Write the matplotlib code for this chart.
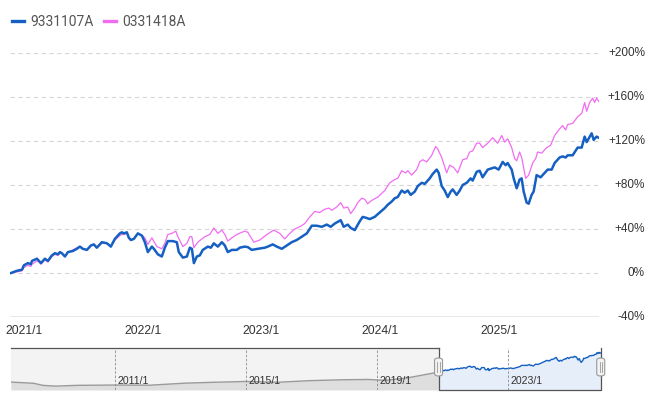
import matplotlib
matplotlib.use("Agg")
import matplotlib.pyplot as plt
import matplotlib.transforms as mtransforms
from matplotlib.lines import Line2D
from matplotlib.patches import FancyBboxPatch

# 9331107A : cumulative return (%) vs decimal year
blue_t = [2020.888, 2020.938, 2020.981, 2020.997, 2021.031, 2021.056, 2021.065, 2021.107, 2021.124, 2021.141,
          2021.174, 2021.200, 2021.233, 2021.259, 2021.284, 2021.301, 2021.317, 2021.343, 2021.368, 2021.410,
          2021.444, 2021.469, 2021.494, 2021.528, 2021.562, 2021.587, 2021.612, 2021.654, 2021.697, 2021.730,
          2021.764, 2021.806, 2021.823, 2021.840, 2021.865, 2021.882,
          2021.899, 2021.924, 2021.958, 2021.992, 2022.017, 2022.042, 2022.076, 2022.093, 2022.126, 2022.160,
          2022.185, 2022.211, 2022.253, 2022.286, 2022.303, 2022.337, 2022.371, 2022.396, 2022.413, 2022.430,
          2022.455, 2022.480, 2022.505, 2022.548, 2022.573, 2022.598, 2022.632, 2022.666, 2022.691, 2022.716,
          2022.750, 2022.792, 2022.817, 2022.859,
          2022.885, 2022.918, 2022.969, 2023.028, 2023.053, 2023.095, 2023.129, 2023.171, 2023.213, 2023.255,
          2023.297, 2023.340, 2023.382, 2023.424, 2023.466, 2023.508, 2023.550, 2023.584, 2023.618, 2023.668,
          2023.693, 2023.727, 2023.752, 2023.786, 2023.828, 2023.853, 2023.887,
          2023.912, 2023.954, 2023.996, 2024.039, 2024.064, 2024.098, 2024.123, 2024.148, 2024.182, 2024.207,
          2024.233, 2024.258, 2024.292, 2024.317, 2024.351, 2024.376, 2024.418, 2024.443, 2024.477, 2024.494,
          2024.519, 2024.544, 2024.570, 2024.595, 2024.612, 2024.645, 2024.671, 2024.696, 2024.730, 2024.763,
          2024.780, 2024.814, 2024.839, 2024.864,
          2024.907, 2024.966, 2024.999, 2025.033, 2025.058, 2025.075, 2025.109, 2025.126, 2025.151, 2025.176,
          2025.193, 2025.210, 2025.235, 2025.252, 2025.277, 2025.294, 2025.319, 2025.353, 2025.387, 2025.412,
          2025.446, 2025.471, 2025.513, 2025.538, 2025.564, 2025.581, 2025.623, 2025.665, 2025.699, 2025.724,
          2025.741, 2025.783, 2025.800, 2025.825, 2025.842]
blue_v = [0, 2, 3, 7, 9, 8, 11, 13, 11, 9,
          13, 11, 16, 18, 17, 19, 18, 15, 19, 20,
          22, 24, 22, 21, 25, 26, 23, 28, 27, 24,
          31, 36, 37, 36, 37, 32,
          30, 31, 36, 34, 28, 19, 24, 22, 17, 15,
          23, 29, 29, 28, 19, 14, 15, 23, 22, 9,
          15, 16, 21, 24, 23, 27, 24, 28, 25, 19,
          21, 21, 23, 24,
          23.5, 21, 22, 23, 24, 26, 24, 22, 25, 28,
          30, 33, 36, 43, 43, 42, 44, 42, 45, 48,
          42, 44, 41, 39, 47, 51, 50,
          49, 51, 55, 59, 62, 65, 68, 69, 75, 73,
          75, 71, 74, 79, 82, 81, 86, 90, 94, 91,
          79, 75, 69, 74, 76, 71, 75, 80, 82, 86,
          84, 92, 93, 87,
          94, 96, 94, 101, 98, 100, 94, 86, 77, 85,
          86, 74, 64, 63, 71, 74, 89, 87, 91, 94,
          94, 100, 105, 106, 105, 107, 107, 114, 114, 124,
          119, 127, 121, 124, 123]

# 0331418A
pink_t = [2020.888, 2020.938, 2020.981, 2020.997, 2021.031, 2021.056, 2021.065, 2021.107, 2021.124, 2021.141,
          2021.174, 2021.200, 2021.233, 2021.259, 2021.284, 2021.301, 2021.317, 2021.343, 2021.368, 2021.410,
          2021.444, 2021.469, 2021.494, 2021.528, 2021.562, 2021.587, 2021.612, 2021.654, 2021.697, 2021.730,
          2021.764, 2021.806, 2021.823, 2021.840, 2021.865, 2021.882,
          2021.899, 2021.924, 2021.958, 2021.992, 2022.017, 2022.042, 2022.076, 2022.118, 2022.160, 2022.185,
          2022.211, 2022.244, 2022.278, 2022.295, 2022.337, 2022.371, 2022.396, 2022.413, 2022.430, 2022.463,
          2022.522, 2022.564, 2022.598, 2022.632, 2022.666, 2022.691, 2022.716, 2022.750, 2022.792, 2022.834,
          2022.859, 2022.885, 2022.935, 2022.986, 2023.045, 2023.104, 2023.154, 2023.196, 2023.238, 2023.280,
          2023.323, 2023.365, 2023.407, 2023.449, 2023.491, 2023.533, 2023.567, 2023.592, 2023.634, 2023.668,
          2023.693, 2023.727, 2023.752, 2023.786, 2023.811, 2023.845, 2023.870, 2023.895, 2023.929, 2023.980,
          2024.039, 2024.081, 2024.123, 2024.148, 2024.182, 2024.216, 2024.233, 2024.266, 2024.308, 2024.334,
          2024.359, 2024.393, 2024.435, 2024.468, 2024.485, 2024.519, 2024.561, 2024.586, 2024.620, 2024.654,
          2024.696, 2024.730, 2024.755, 2024.780, 2024.814, 2024.839, 2024.864, 2024.907, 2024.949, 2024.991,
          2025.025, 2025.050, 2025.075, 2025.109, 2025.134, 2025.151, 2025.176, 2025.193, 2025.227, 2025.252,
          2025.286, 2025.311, 2025.328, 2025.362, 2025.404, 2025.437, 2025.471, 2025.513, 2025.538, 2025.564,
          2025.581, 2025.623, 2025.665, 2025.699, 2025.724, 2025.741, 2025.766, 2025.791, 2025.808, 2025.825,
          2025.842]
pink_v = [0, 1, 2, 5, 7, 6, 8, 11, 10, 8,
          12, 10, 15, 17, 16, 18, 18, 15, 19, 21,
          23, 24, 22, 21, 25, 26, 23, 27, 27, 24,
          30, 34, 35, 35, 36, 32,
          30, 31, 36, 34, 32, 26, 32, 24, 22, 27,
          35, 36, 38, 33, 24, 27, 33, 33, 23, 28,
          33, 35, 41, 36, 39, 35, 29, 32, 35, 37,
          38, 37, 28, 30, 35, 39, 36, 31, 36, 40,
          42, 45, 51, 56, 55, 58, 59, 57, 60, 64,
          59, 60, 54, 59, 64, 68, 67, 63, 66, 69,
          75, 82, 85, 86, 93, 91, 93, 89, 94, 101,
          103, 101, 107, 115, 113, 105, 91, 98, 96, 91,
          103, 104, 110, 111, 118, 118, 114, 118, 123, 118,
          125, 119, 122, 114, 104, 102, 110, 105, 86, 89,
          100, 104, 110, 109, 114, 116, 125, 131, 134, 130,
          135, 136, 142, 145, 155, 147, 155, 159, 155, 159,
          156]

# long history shown in the navigator (relative to the start of the window)
hist_t = [2007.83, 2008.29, 2008.53, 2008.80, 2009.20, 2009.84, 2011.00, 2012.07, 2013.13, 2014.05,
          2014.99, 2016.00, 2016.91, 2017.95, 2018.74, 2019.26, 2019.93, 2020.24, 2020.57]
hist_v = [-65, -70, -73, -86, -91, -86, -84, -85, -72, -66,
          -61, -66, -56, -50, -48, -54, -38, -26, -13]

series_names = ["9331107A", "0331418A"]
y_ticks = [-40, 0, 40, 80, 120, 160, 200]
x_ticks = [2021, 2022, 2023, 2024, 2025]
nav_ticks = [2011, 2015, 2019, 2023]

BLUE = "#1560c2"
PINK = "#f26cf2"
TXT = "#333333"

fig = plt.figure(figsize=(6.7, 3.96), dpi=100)

# main chart
ax = fig.add_axes([10 / 670, 79 / 396, 589 / 670, 264 / 396])
ax.plot(pink_t, pink_v, color=PINK, lw=0.9, zorder=3)
ax.plot(blue_t, blue_v, color=BLUE, lw=1.8, zorder=4)
ax.set_xlim(2020.88, 2025.845)
ax.set_ylim(-40, 200)
for s in ax.spines.values():
    s.set_visible(False)
ax.set_xticks([])
ax.set_yticks([])
for v in y_ticks[1:]:
    ax.axhline(v, color="#d6d6d6", lw=0.8, ls=(0, (4, 3)), zorder=1)
ax.axhline(-40, color="#444444", lw=0.9, zorder=2)

ytrans = mtransforms.blended_transform_factory(ax.transAxes, ax.transData)
for v in y_ticks:
    lab = f"+{v}%" if v > 0 else f"{v}%"
    ax.text(1 + 46 / 589, v, lab, transform=ytrans, ha="right", va="center",
            fontsize=8.5, color=TXT, family="Liberation Sans")

xtrans = mtransforms.blended_transform_factory(ax.transData, ax.transAxes)
for yr in x_ticks:
    ax.text(yr, -14 / 264, f"{yr}/1", transform=xtrans, ha="center", va="center",
            fontsize=8.7, color=TXT, family="Liberation Sans", clip_on=False)

# legend
handles = [Line2D([], [], color=BLUE, lw=2.4), Line2D([], [], color=PINK, lw=2.4)]
fig.legend(handles, series_names, loc="center left", bbox_to_anchor=(12 / 670, 1 - 22 / 396),
           ncol=2, frameon=False, handlelength=0.85, handletextpad=0.45, columnspacing=0.8,
           borderpad=0, borderaxespad=0, labelcolor="#555555",
           prop={"family": "Roboto", "size": 10})

# navigator
nav = fig.add_axes([11 / 670, 6 / 396, 590 / 670, 42 / 396])
lo, hi = -116, 155
nav.set_xlim(2007.83, 2025.85)
nav.set_ylim(lo, hi)
nav.axis("off")
sel0, sel1 = blue_t[0], blue_t[-1]
nav.axvspan(2007.83, sel0, color="#f3f3f3", lw=0, zorder=0)
hx = hist_t + [blue_t[0]]
hy = hist_v + [blue_v[0]]
nav.fill_between(hx, hy, lo, color="#dedede", lw=0, zorder=1)
nav.plot(hx, hy, color="#9a9a9a", lw=1.0, zorder=2)
nav.fill_between(blue_t, blue_v, lo, color="#e6eef9", lw=0, zorder=1)
nav.plot(blue_t, blue_v, color=BLUE, lw=1.0, zorder=2)
for yr in nav_ticks:
    nav.axvline(yr, color="#8a8a8a", lw=0.6, ls=(0, (3, 2)), zorder=3)
    nav.text(yr + 0.08, 0.21, f"{yr}/1", transform=mtransforms.blended_transform_factory(nav.transData, nav.transAxes),
             ha="left", va="center", fontsize=7.6, color=TXT, family="Liberation Sans", zorder=4)

# navigator outline
nav.plot([2007.83, sel0], [hi, hi], color="#555555", lw=0.9, zorder=5, clip_on=False)
nav.plot([sel0, sel0, sel1, sel1], [hi, lo, lo, hi], color="#555555", lw=0.9, zorder=5, clip_on=False)

# handles
fig.canvas.draw()
inv = fig.transFigure.inverted()
for xv in (sel0, sel1):
    px, py = nav.transData.transform((xv, 0))
    py = fig.bbox.height - 367
    (fx, fy) = inv.transform((px - 4, py - 9))
    (fx2, fy2) = inv.transform((px + 4, py + 9))
    box = FancyBboxPatch((fx, fy), fx2 - fx, fy2 - fy, boxstyle="round,pad=0,rounding_size=0.006",
                         transform=fig.transFigure, facecolor="#f2f2f2", edgecolor="#999999", lw=0.8, zorder=10)
    fig.add_artist(box)
    for dx in (-1.2, 1.2):
        a = inv.transform((px + dx, py - 5))
        b = inv.transform((px + dx, py + 5))
        fig.add_artist(Line2D([a[0], b[0]], [a[1], b[1]], transform=fig.transFigure,
                              color="#999999", lw=0.6, zorder=11))

fig.savefig("out.png", dpi=100, facecolor="white")
